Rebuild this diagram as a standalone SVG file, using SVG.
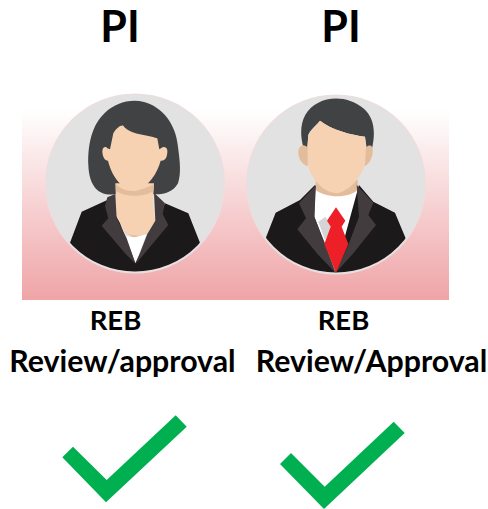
<svg xmlns="http://www.w3.org/2000/svg" width="488" height="509" viewBox="0 0 488 509">
<defs>
<linearGradient id="bg" x1="0" y1="0" x2="0" y2="1"><stop offset="0" stop-color="#ffffff"/><stop offset="0.12" stop-color="#fdf4f4"/><stop offset="1" stop-color="#efa4a7"/></linearGradient>
<clipPath id="cl"><circle cx="135" cy="183.5" r="88"/></clipPath>
<clipPath id="cr"><circle cx="336" cy="184.5" r="88"/></clipPath>
</defs>
<style>
.t{font-family:"Lato","Liberation Sans",sans-serif;font-weight:700;fill:#000;text-anchor:middle}
.pi{font-size:43px}
.l{font-size:27.5px}
.l2{font-size:30.3px}
.disc{fill:#e2e2e3;stroke:#e9dfe0;stroke-width:2}
.hair{fill:#414243}
.skin{fill:#f6d2b3}
.shade{fill:#e3bd9b}
.suit{fill:#1b191a}
.lapel{fill:#433c3f}
.chk{fill:#00b050}
</style>
<rect id="band" x="22" y="110" width="427" height="190" fill="url(#bg)"/>
<g id="pi-left">
<text class="t pi" x="120" y="42">PI</text>
<circle class="disc" cx="135" cy="183.5" r="89"/>
<g clip-path="url(#cl)"><g transform="translate(20 90) scale(.3333)">
<path class="hair" d="M205 225C203 165 215 105 255 68C285 40 330 25 372 36C425 50 468 100 474 170C480 215 484 250 474 280C458 310 425 316 390 312L290 312C245 320 208 300 205 225Z"/>
<path class="skin" d="M286 280L402 280L398 345L406 392L382 430L345 440L316 428L290 385Z"/>
<path class="shade" d="M288 282C310 306 345 312 402 282L400 304C370 322 320 322 288 304Z"/>
<path class="shade" d="M314 426C335 440 365 440 384 428L378 436L345 446Z"/>
<path class="skin" d="M247 185C247 170 258 168 262 175L270 178L280 130C290 115 300 105 310 107C330 135 380 132 412 145L418 178L428 172C440 168 445 180 441 195C438 210 430 212 422 212C412 250 385 292 345 304C300 296 275 255 264 212C254 212 248 200 247 185Z"/>
<path d="M316 438L345 442L380 432L346 520Z" fill="#fff"/>
<path class="suit" d="M150 458L185 365L262 330L300 400L346 520L435 340L505 370L540 458L500 560L180 560Z"/>
<path class="lapel" d="M262 322L286 312L290 385L320 445L347 522L315 490L245 407L265 385L255 348Z"/>
<path class="lapel" d="M402 308L435 340L428 372L445 405L347 522L382 432L406 392Z"/>
</g></g>
</g>
<g id="pi-right">
<text class="t pi" x="341" y="42">PI</text>
<circle class="disc" cx="336" cy="184.5" r="89"/>
<g clip-path="url(#cr)"><g transform="translate(235 90) scale(.3333)">
<path class="hair" d="M205 172C188 110 205 60 250 38C290 18 345 22 385 55C420 85 422 130 410 180L396 180L390 140C350 135 290 120 255 92C240 110 225 120 220 135L216 178Z"/>
<path class="shade" d="M190 185C192 165 205 160 218 172L393 172C405 160 416 168 413 188C410 210 400 225 388 228L220 228C200 225 190 205 190 185Z"/>
<path d="M238 296C255 320 345 320 372 292L372 385L345 450L305 540L268 455L238 380Z" fill="#fff"/>
<path d="M250 395L272 380L290 420L270 450ZM335 420L356 385L352 425L335 460Z" fill="#d5d5d6"/>
<path class="shade" d="M243 270L368 270L370 298C345 326 270 326 240 298Z"/>
<path class="skin" d="M218 172L220 135C230 118 245 105 255 92C290 120 350 135 390 140L393 172L390 222C380 262 340 306 305 310C260 305 225 262 218 222Z"/>
<path class="suit" d="M92 445L122 368L195 330L240 285L238 380L300 548L372 285L415 335L480 368L512 445L470 560L130 560Z"/>
<path class="lapel" d="M243 285L238 380L268 455L302 548L250 495L187 418L213 385L192 340Z"/>
<path class="lapel" d="M365 285L372 380L340 465L302 548L355 490L423 405L400 375L415 338Z"/>
<path d="M303 352L331 392L320 410L340 462L303 548L268 462L287 410L276 392Z" fill="#ed2027"/>
</g></g>
</g>
<g id="reb-left"><text class="t l" x="115.5" y="330">REB</text><text class="t l2" x="122.5" y="372">Review/approval</text></g>
<g id="reb-right"><text class="t l" x="343.5" y="330">REB</text><text class="t l2" x="371.5" y="372">Review/Approval</text></g>
<polygon id="check-left" class="chk" points="62.3,457.3 73,446.7 106.7,480 175.7,415.3 186.7,426.7 106,502.3"/>
<polygon id="check-right" class="chk" points="280,464 291,453 324.7,486.7 393.7,421.7 404.7,433 324,509"/>
</svg>
